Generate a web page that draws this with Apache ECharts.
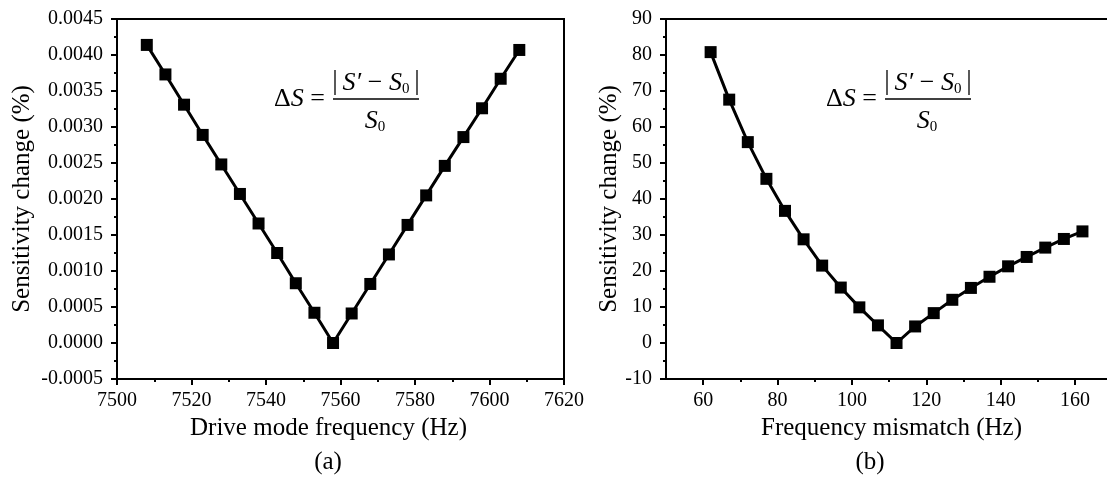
<!DOCTYPE html>
<html>
<head>
<meta charset="utf-8">
<script src="https://cdn.jsdelivr.net/npm/echarts@6/dist/echarts.min.js"></script>
<style>
html,body{margin:0;padding:0;background:#fff;}
#chart{width:1107px;height:479px;}
</style>
</head>
<body>
<div id="chart"></div>
<script>
// ---- Data ----
const freqA = [7508, 7513, 7518, 7523, 7528, 7533, 7538, 7543, 7548, 7553, 7558, 7563, 7568, 7573, 7578, 7583, 7588, 7593, 7598, 7603, 7608];
const sensA = [0.00414, 0.00373, 0.00331, 0.00289, 0.00248, 0.00207, 0.00166, 0.00125, 0.00083, 0.00042, 0.0, 0.00041, 0.00082, 0.00123, 0.00164, 0.00205, 0.00246, 0.00286, 0.00326, 0.00367, 0.00407];
const mismatchB = [62, 67, 72, 77, 82, 87, 92, 97, 102, 107, 112, 117, 122, 127, 132, 137, 142, 147, 152, 157, 162];
const sensB = [80.8, 67.6, 55.8, 45.6, 36.7, 28.8, 21.5, 15.4, 9.9, 4.9, 0, 4.6, 8.3, 12.0, 15.3, 18.4, 21.3, 23.9, 26.5, 28.9, 31.0];
const xTicksB = [60, 80, 100, 120, 140, 160];
const xMinorB = [70, 90, 110, 130, 150];
const xTitleA = 'Drive mode frequency (Hz)';
const xTitleB = 'Frequency mismatch (Hz)';
const yTitle = 'Sensitivity change (%)';
const panelLabels = ['(a)', '(b)'];

const FONT = '"Liberation Serif", "Times New Roman", serif';
const black = '#000';

const tickLabel = {color: black, fontFamily: FONT, fontSize: 20};
const axisLine = {show: true, onZero: false, lineStyle: {color: black, width: 2}};
const axisTick = {show: true, inside: false, length: 6, lineStyle: {color: black, width: 2}};
const minorTick = {show: true, splitNumber: 2, length: 3, lineStyle: {color: black, width: 2}};
const nameStyle = {color: black, fontFamily: FONT, fontSize: 25};

// right panel is cropped at the image edge in the reference
const xMinB = 50, xMaxB = 168.6;

function pairs(xs, ys) { return xs.map((x, i) => [x, ys[i]]); }

function formula(x0, y0) {
  const rich = {
    n: {fontFamily: FONT, fontSize: 26, color: black},
    i: {fontFamily: FONT, fontSize: 26, fontStyle: 'italic', color: black},
    s: {fontFamily: FONT, fontSize: 15, color: black, padding: [13, 0, 0, 0]}
  };
  return {
    type: 'group', x: x0, y: y0,
    children: [
      {type: 'text', x: -8, y: 0, style: {text: '{n|Δ}{i|S}{n| =}', rich: rich, align: 'right', verticalAlign: 'middle'}},
      {type: 'line', shape: {x1: 0, y1: 0, x2: 86, y2: 0}, style: {stroke: black, lineWidth: 1.3}},
      {type: 'line', shape: {x1: 2, y1: -29, x2: 2, y2: -4}, style: {stroke: black, lineWidth: 1.3}},
      {type: 'line', shape: {x1: 84, y1: -29, x2: 84, y2: -4}, style: {stroke: black, lineWidth: 1.3}},
      {type: 'text', x: 43, y: -16, style: {text: '{i|S′}{n| − }{i|S}{s|0}', rich: rich, align: 'center', verticalAlign: 'middle'}},
      {type: 'text', x: 42, y: 22, style: {text: '{i|S}{s|0}', rich: rich, align: 'center', verticalAlign: 'middle'}}
    ]
  };
}

const chart = echarts.init(document.getElementById('chart'), null, {renderer: 'canvas'});
chart.setOption({
  backgroundColor: '#fff',
  animation: false,
  grid: [
    {left: 117, top: 19, width: 447, height: 360, show: true, borderColor: black, borderWidth: 2, backgroundColor: 'transparent'},
    {left: 666, top: 19, right: 0, height: 360, show: false}
  ],
  xAxis: [
    {
      type: 'value', gridIndex: 0, min: 7500, max: 7620, interval: 20,
      axisLine: axisLine, axisTick: axisTick, minorTick: minorTick,
      splitLine: {show: false},
      axisLabel: Object.assign({margin: 12, formatter: v => String(v)}, tickLabel),
      name: xTitleA, nameLocation: 'middle', nameGap: 34,
      nameTextStyle: Object.assign({padding: [0, 24, 0, 0]}, nameStyle)
    },
    {
      type: 'value', gridIndex: 1, min: xMinB, max: xMaxB,
      axisLine: axisLine,
      axisTick: Object.assign({customValues: xTicksB}, axisTick),
      splitLine: {show: false},
      axisLabel: Object.assign({margin: 12, customValues: xTicksB, formatter: v => String(v)}, tickLabel),
      name: xTitleB, nameLocation: 'middle', nameGap: 34,
      nameTextStyle: Object.assign({padding: [0, 0, 0, 10]}, nameStyle)
    },
    {
      type: 'value', gridIndex: 1, min: xMinB, max: xMaxB, position: 'bottom',
      axisLine: {show: false, onZero: false},
      axisTick: {show: true, length: 3, customValues: xMinorB, lineStyle: {color: black, width: 2}},
      axisLabel: {show: false}, splitLine: {show: false}
    },
    {
      type: 'value', gridIndex: 1, min: xMinB, max: xMaxB, position: 'top',
      axisLine: axisLine, axisTick: {show: false},
      axisLabel: {show: false}, splitLine: {show: false}
    }
  ],
  yAxis: [
    {
      type: 'value', gridIndex: 0, min: -0.0005, max: 0.0045, interval: 0.0005,
      axisLine: axisLine, axisTick: axisTick, minorTick: minorTick,
      splitLine: {show: false},
      axisLabel: Object.assign({margin: 14, formatter: v => v.toFixed(4)}, tickLabel),
      name: yTitle, nameLocation: 'middle', nameGap: 82,
      nameTextStyle: nameStyle
    },
    {
      type: 'value', gridIndex: 1, min: -10, max: 90, interval: 10,
      axisLine: axisLine, axisTick: axisTick, minorTick: minorTick,
      splitLine: {show: false},
      axisLabel: Object.assign({margin: 14}, tickLabel),
      name: yTitle, nameLocation: 'middle', nameGap: 40,
      nameTextStyle: nameStyle
    }
  ],
  series: [
    {
      type: 'line', xAxisIndex: 0, yAxisIndex: 0, data: pairs(freqA, sensA),
      symbol: 'rect', symbolSize: 12, showAllSymbol: true,
      itemStyle: {color: black}, lineStyle: {color: black, width: 3}
    },
    {
      type: 'line', xAxisIndex: 1, yAxisIndex: 1, data: pairs(mismatchB, sensB),
      symbol: 'rect', symbolSize: 12, showAllSymbol: true,
      itemStyle: {color: black}, lineStyle: {color: black, width: 3}
    }
  ],
  graphic: [
    formula(333, 99),
    formula(885, 99),
    {type: 'text', x: 328, y: 462, style: {text: panelLabels[0], fontFamily: FONT, fontSize: 25, fill: black, align: 'center', verticalAlign: 'middle'}},
    {type: 'text', x: 870, y: 462, style: {text: panelLabels[1], fontFamily: FONT, fontSize: 25, fill: black, align: 'center', verticalAlign: 'middle'}}
  ]
});
</script>
</body>
</html>
